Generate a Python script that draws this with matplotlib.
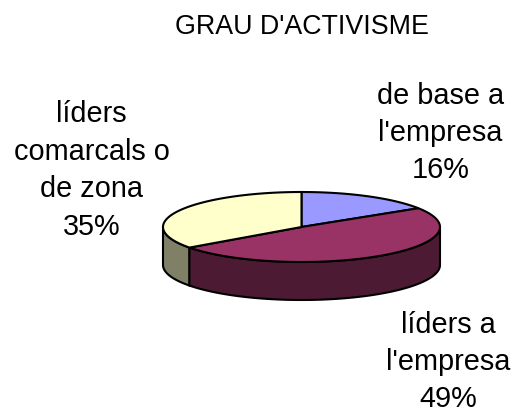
import numpy as np
import matplotlib
matplotlib.use("Agg")
import matplotlib.pyplot as plt

title = "GRAU D'ACTIVISME"
labels = ["de base a\nl'empresa\n16%", "líders a\nl'empresa\n49%", "líders\ncomarcals o\nde zona\n35%"]
values = [16, 49, 35]
top_colors = ["#9999FF", "#993366", "#FFFFCC"]
side_colors = ["#4D4D80", "#4D1A33", "#808066"]

plt.rcParams['font.family'] = ['Liberation Sans', 'DejaVu Sans']
fig = plt.figure(figsize=(5.18, 4.12), dpi=100)
ax = fig.add_axes([0, 0, 1, 1])
ax.set_xlim(0, 518)
ax.set_ylim(412, 0)
ax.axis('off')

cx, cy, rx, ry, depth = 301.5, 227, 138.5, 35, 38
edge = dict(edgecolor='black', linewidth=1.5)

def pt(deg):
    a = np.radians(deg)
    return cx + rx*np.sin(a), cy - ry*np.cos(a)

fr = np.concatenate([[0], np.cumsum(values)]) / sum(values) * 360
for i in range(len(values)-1, -1, -1):
    lo, hi = max(fr[i], 90), min(fr[i+1], 270)
    if hi <= lo:
        continue
    t = np.linspace(lo, hi, 100)
    x, y = pt(t)
    xs = np.concatenate([x, x[::-1]])
    ys = np.concatenate([y, y[::-1] + depth])
    ax.fill(xs, ys, facecolor=side_colors[i], **edge)
for i in range(len(values)):
    t = np.linspace(fr[i], fr[i+1], 150)
    x, y = pt(t)
    ax.fill(np.r_[cx, x], np.r_[cy, y], facecolor=top_colors[i], **edge)

fs = 20.8
ax.text(301.5, 26.5, title, ha='center', va='center', fontsize=19.3, color='black')
ax.text(440.5, 133, labels[0], ha='center', va='center', fontsize=fs, linespacing=1.43)
ax.text(448.5, 362, labels[1], ha='center', va='center', fontsize=fs, linespacing=1.43)
ax.text(91.5, 170.5, labels[2], ha='center', va='center', fontsize=fs, linespacing=1.43)
fig.savefig("out.png", dpi=100)
